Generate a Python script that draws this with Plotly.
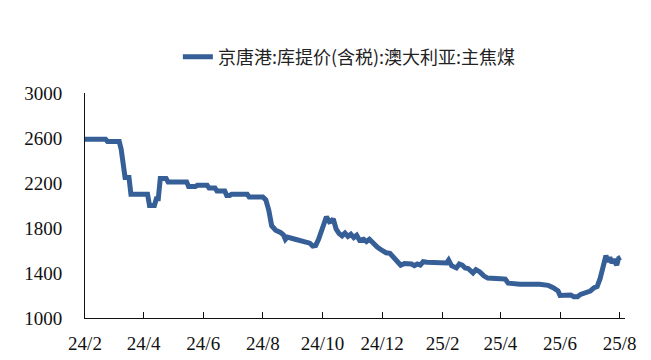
import plotly.graph_objects as go

dates = [
    "2024-02-01", "2024-02-22", "2024-02-24", "2024-03-07", "2024-03-09", "2024-03-12",
    "2024-03-13", "2024-03-17", "2024-03-19", "2024-04-05", "2024-04-07", "2024-04-12",
    "2024-04-14", "2024-04-16", "2024-04-18", "2024-04-24", "2024-04-26", "2024-05-15",
    "2024-05-17", "2024-05-24", "2024-05-26", "2024-06-05", "2024-06-07", "2024-06-13",
    "2024-06-15", "2024-06-23", "2024-06-25", "2024-06-28", "2024-06-30", "2024-07-16",
    "2024-07-18", "2024-08-01", "2024-08-04", "2024-08-06", "2024-08-07", "2024-08-10",
    "2024-08-14", "2024-08-19", "2024-08-22", "2024-08-24", "2024-08-26", "2024-09-03",
    "2024-09-13", "2024-09-18", "2024-09-21", "2024-09-24", "2024-09-27", "2024-10-02",
    "2024-10-05", "2024-10-08", "2024-10-10", "2024-10-12", "2024-10-15", "2024-10-18",
    "2024-10-21", "2024-10-24", "2024-10-27", "2024-10-30", "2024-11-02", "2024-11-05",
    "2024-11-08", "2024-11-12", "2024-11-15", "2024-11-18", "2024-11-22", "2024-11-26",
    "2024-12-01", "2024-12-05", "2024-12-09", "2024-12-13", "2024-12-17", "2024-12-20",
    "2024-12-24", "2024-12-31", "2025-01-03", "2025-01-06", "2025-01-09", "2025-01-12",
    "2025-01-16", "2025-01-23", "2025-02-05", "2025-02-07", "2025-02-10", "2025-02-15",
    "2025-02-18", "2025-02-21", "2025-02-24", "2025-02-27", "2025-03-01", "2025-03-04",
    "2025-03-07", "2025-03-11", "2025-03-15", "2025-03-19", "2025-04-01", "2025-04-06",
    "2025-04-09", "2025-04-21", "2025-05-11", "2025-05-20", "2025-05-25", "2025-05-30",
    "2025-06-01", "2025-06-08", "2025-06-12", "2025-06-15", "2025-06-19", "2025-06-22",
    "2025-06-27", "2025-07-02", "2025-07-06", "2025-07-09", "2025-07-12", "2025-07-15",
    "2025-07-18", "2025-07-20", "2025-07-22", "2025-07-24", "2025-07-26", "2025-07-29",
    "2025-07-31", "2025-08-02",
]
prices = [
    2590, 2590, 2570, 2570, 2500, 2300,
    2250, 2250, 2100, 2100, 2000, 2000,
    2060, 2060, 2240, 2240, 2210, 2210,
    2170, 2170, 2180, 2180, 2155, 2155,
    2130, 2130, 2090, 2090, 2100, 2100,
    2075, 2075, 2050, 1990, 1960, 1820,
    1780, 1760, 1740, 1700, 1720, 1700,
    1680, 1665, 1640, 1645, 1700, 1840,
    1900, 1855, 1860, 1880, 1790, 1750,
    1730, 1755, 1725, 1745, 1715, 1735,
    1690, 1700, 1680, 1700, 1660, 1630,
    1600, 1580, 1575, 1540, 1500, 1470,
    1485, 1480, 1465, 1480, 1470, 1500,
    1495, 1490, 1490, 1515, 1465, 1445,
    1480, 1470, 1445, 1440, 1420, 1400,
    1430, 1410, 1375, 1355, 1350, 1345,
    1310, 1300, 1300, 1290, 1270, 1240,
    1200, 1200, 1205, 1190, 1190, 1210,
    1220, 1240, 1270, 1280, 1350, 1450,
    1555, 1500, 1540, 1490, 1520, 1470,
    1530, 1540,
]

series_name = "京唐港:库提价(含税):澳大利亚:主焦煤"
tick_dates = ["2024-02-01", "2024-04-01", "2024-06-01", "2024-08-01", "2024-10-01",
              "2024-12-01", "2025-02-01", "2025-04-01", "2025-06-01", "2025-08-01"]
tick_labels = ["24/2", "24/4", "24/6", "24/8", "24/10", "24/12", "25/2", "25/4", "25/6", "25/8"]
y_ticks = [1000, 1400, 1800, 2200, 2600, 3000]

serif = "Liberation Serif, Times New Roman, serif"

fig = go.Figure()
fig.add_trace(go.Scatter(
    x=dates, y=prices, mode="lines", name=series_name,
    line=dict(color="#355F96", width=5),
))
# helper on a second y axis that only draws the single top tick
fig.add_trace(go.Scatter(x=[dates[0]], y=[3000], yaxis="y2", mode="lines",
                         showlegend=False, hoverinfo="skip", line=dict(width=0)))

fig.update_layout(
    width=651, height=360,
    margin=dict(l=85, r=26, t=93, b=42),
    paper_bgcolor="white", plot_bgcolor="white",
    showlegend=True,
    legend=dict(
        x=0.172, y=1.16, xanchor="left", yanchor="middle",
        font=dict(family="Noto Sans CJK SC", size=18, color="#222222"),
        bgcolor="rgba(0,0,0,0)",
    ),
    xaxis=dict(
        type="date", automargin=False,
        range=["2024-02-01", "2025-08-06 12:00"],
        tickvals=tick_dates, ticktext=tick_labels,
        ticks="inside", ticklen=6, tickcolor="#111111", tickwidth=1,
        showline=True, linecolor="#111111", linewidth=1,
        showgrid=False, zeroline=False,
        tickfont=dict(family=serif, size=19, color="#111111"),
        ticklabelstandoff=8,
    ),
    yaxis=dict(
        range=[1000, 3000], automargin=False,
        tickvals=y_ticks,
        ticks="", showline=True, linecolor="#111111", linewidth=1,
        showgrid=False, zeroline=False,
        tickfont=dict(family=serif, size=19, color="#111111"),
        ticklabelstandoff=18,
    ),
    yaxis2=dict(
        range=[1000, 3000], overlaying="y", side="left", automargin=False,
        tickvals=[3000], ticks="inside", ticklen=5, tickcolor="#111111",
        showticklabels=False, showgrid=False, zeroline=False, showline=False,
    ),
)

fig.write_html("out.html")
